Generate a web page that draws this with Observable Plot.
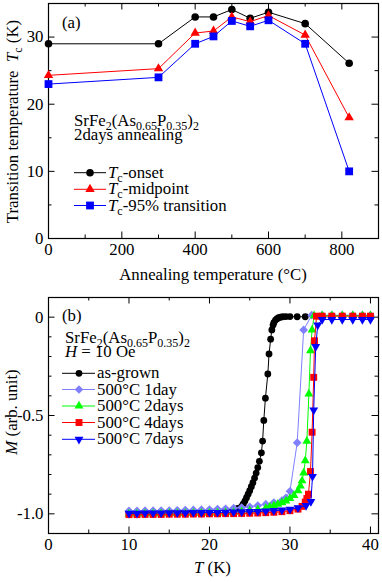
<!DOCTYPE html>
<html><head><meta charset="utf-8">
<script src="https://cdn.jsdelivr.net/npm/d3@7"></script>
<script src="https://cdn.jsdelivr.net/npm/@observablehq/plot@0.6"></script>
<style>
body{margin:0;background:#fff;}
#chart{width:382px;}
#chart svg{display:block;}
#chart svg, #chart svg text, #chart svg tspan{font-family:"Liberation Serif","Times New Roman",serif !important;}
</style></head><body><div id="chart"></div>
<script>
const FONT = "'Liberation Serif', 'Times New Roman', serif";
const FS = 16.8;

// ---------- Panel (a) data ----------
const annealT = [0, 300, 400, 450, 500, 550, 600, 700, 820];
const tcOnset = [29.0, 29.0, 33.0, 33.0, 34.1, 32.8, 33.7, 32.0, 26.1];
const tcMid   = [24.3, 25.3, 30.6, 30.9, 33.0, 32.3, 33.2, 30.3, 18.0];
const tc95    = [23.0, 24.0, 29.0, 30.1, 32.4, 31.6, 32.5, 29.0, 10.0];
const annealTicks = [0, 200, 400, 600, 800];
const annealMinor = [100, 300, 500, 700];
const tcTicks = [0, 10, 20, 30];
const tcMinor = [5, 15, 25];

// ---------- Panel (b) data ----------
const agT = [10,11,12,13,14,15,16,17,18,19,20,21,22,23,23.5,24.0,24.2,24.4,24.6,24.8,25.0,25.2,25.4,25.6,25.8,26.0,26.2,26.45,26.6,26.75,26.95,27.25,27.4,27.6,27.75,27.9,28.0,28.2,28.4,28.6,28.8,29.1,29.5,30.0,30.9,31.9];
const agM = [-0.995,-0.994,-0.993,-0.992,-0.991,-0.990,-0.989,-0.988,-0.987,-0.986,-0.985,-0.983,-0.981,-0.978,-0.972,-0.962,-0.950,-0.935,-0.918,-0.900,-0.882,-0.862,-0.842,-0.818,-0.793,-0.765,-0.733,-0.690,-0.630,-0.525,-0.412,-0.289,-0.187,-0.112,-0.065,-0.040,-0.028,-0.015,-0.008,-0.003,0.000,0.002,0.003,0.003,0.002,0.002];

const d1T = [10,11,12,13,14,15,16,17,18,19,20,21,22,23,24,25,26,27,28,29,29.5,30.0,30.9,31.7,32.7,34.0,35.2,36.5,37.8,39.0,40.0];
const d1M = [-0.985,-0.985,-0.984,-0.984,-0.983,-0.983,-0.982,-0.981,-0.980,-0.979,-0.978,-0.976,-0.974,-0.971,-0.968,-0.964,-0.958,-0.951,-0.943,-0.932,-0.918,-0.885,-0.638,-0.065,0.010,0.010,0.010,0.010,0.010,0.010,0.010];

const d2T = [10,11,12,13,14,15,16,17,18,19,20,21,22,23,24,25,26,27,27.5,28,28.5,29,29.5,30,30.5,31,31.3,31.5,31.7,31.9,32.1,32.35,32.55,32.75,33.0,34.0,35.2,36.5,37.8,39.0,40.0];
const d2M = [-1.000,-1.000,-0.999,-0.999,-0.999,-0.998,-0.998,-0.998,-0.997,-0.997,-0.996,-0.995,-0.994,-0.992,-0.989,-0.985,-0.979,-0.971,-0.965,-0.958,-0.951,-0.943,-0.934,-0.922,-0.906,-0.882,-0.858,-0.832,-0.792,-0.730,-0.630,-0.390,-0.170,-0.065,0.008,0.008,0.008,0.008,0.008,0.008,0.008];

const d4T = [10,11,12,13,14,15,16,17,18,19,20,21,22,23,24,25,26,27,28,29,30,31,31.5,31.9,32.1,32.3,32.55,32.75,32.95,33.05,33.3,34.0,35.2,36.5,37.8,39.0,40.0];
const d4M = [-1.004,-1.004,-1.003,-1.003,-1.003,-1.002,-1.002,-1.002,-1.001,-1.001,-1.000,-1.000,-0.999,-0.999,-0.998,-0.997,-0.996,-0.994,-0.992,-0.989,-0.984,-0.976,-0.962,-0.940,-0.922,-0.900,-0.785,-0.585,-0.306,-0.120,0.005,0.005,0.005,0.005,0.005,0.005,0.005];

const d7T = [10,11,12,13,14,15,16,17,18,19,20,21,22,23,24,25,26,27,28,29,30,31,32,32.6,32.8,32.95,33.2,33.45,34.0,35.2,36.5,37.8,39.0,40.0];
const d7M = [-0.997,-0.997,-0.996,-0.996,-0.996,-0.995,-0.995,-0.995,-0.994,-0.994,-0.993,-0.993,-0.992,-0.991,-0.990,-0.989,-0.988,-0.986,-0.984,-0.981,-0.977,-0.970,-0.958,-0.938,-0.810,-0.473,-0.150,-0.040,-0.012,-0.012,-0.012,-0.012,-0.012,-0.012,-0.012];

const tTicks = [0, 10, 20, 30, 40];
const tMinor = [5, 15, 25, 35];
const mTicks = [-1.0, -0.5, 0];
const mMinor = [-0.9, -0.8, -0.7, -0.6, -0.4, -0.3, -0.2, -0.1];

// ---------- helpers ----------
const triDown = {
  draw(context, size) {
    const y = Math.sqrt(size / (Math.sqrt(3) * 3));
    context.moveTo(0, 2 * y);
    context.lineTo(-Math.sqrt(3) * y, -y);
    context.lineTo(Math.sqrt(3) * y, -y);
    context.closePath();
  }
};
const d3Sym = {circle: d3.symbolCircle, triangle: d3.symbolTriangle, square: d3.symbolSquare, diamond2: d3.symbolDiamond2};

function tickMarks(xMajor, xMinor, yMajor, yMinor, innerW, innerH) {
  const maj = 6.5, min = 3.5;
  return [
    Plot.ruleX(xMajor, {x: d => d, insetTop: innerH - maj, stroke: "black"}),
    Plot.ruleX(xMinor, {x: d => d, insetTop: innerH - min, stroke: "black"}),
    Plot.ruleX(xMajor, {x: d => d, insetBottom: innerH - maj, stroke: "black"}),
    Plot.ruleX(xMinor, {x: d => d, insetBottom: innerH - min, stroke: "black"}),
    Plot.ruleY(yMajor, {y: d => d, insetRight: innerW - maj, stroke: "black"}),
    Plot.ruleY(yMinor, {y: d => d, insetRight: innerW - min, stroke: "black"}),
    Plot.ruleY(yMajor, {y: d => d, insetLeft: innerW - maj, stroke: "black"}),
    Plot.ruleY(yMinor, {y: d => d, insetLeft: innerW - min, stroke: "black"})
  ];
}

function richText(svg, x, y, parts, opts = {}) {
  const t = svg.append("text")
    .attr("font-family", FONT).attr("font-size", FS).attr("fill", "black")
    .attr("text-anchor", opts.anchor || "start");
  if (opts.rotate) {
    t.attr("transform", `translate(${x},${y}) rotate(-90)`).attr("x", 0).attr("y", 0);
  } else {
    t.attr("x", x).attr("y", y);
  }
  let shift = 0;
  for (const p of parts) {
    const s = t.append("tspan").text(p.t);
    const want = p.sub ? 4 : 0;
    if (want !== shift) { s.attr("dy", want - shift); shift = want; }
    if (p.sub) s.attr("font-size", 12);
    if (p.it) s.attr("font-style", "italic");
  }
  return t;
}

function legendRow(svg, x1, x2, xm, y, color, symType, r, label) {
  svg.append("line").attr("x1", x1).attr("x2", x2).attr("y1", y).attr("y2", y)
    .attr("stroke", color).attr("stroke-width", 1);
  svg.append("path").attr("transform", `translate(${xm},${y})`)
    .attr("d", d3.symbol().type(symType).size(Math.PI * r * r)())
    .attr("fill", color);
  richText(svg, x2 + 2, y + 5, label);
}

const formula = [{t: "SrFe"}, {t: "2", sub: true}, {t: "(As"}, {t: "0.65", sub: true}, {t: "P"}, {t: "0.35", sub: true}, {t: ")"}, {t: "2", sub: true}];
const chart = document.getElementById("chart");

// ---------- Panel (a) ----------
{
  const W = 382, H = 290, mL = 48, mR = 4, mT = 3, mB = 52;
  const innerW = W - mL - mR, innerH = H - mT - mB;
  const rows = annealT.map((t, i) => ({t, onset: tcOnset[i], mid: tcMid[i], p95: tc95[i]}));
  const series = [
    {key: "onset", color: "black", symbol: "circle", r: 3.8},
    {key: "mid", color: "#ff0000", symbol: "triangle", r: 3.5},
    {key: "p95", color: "#0000ff", symbol: "square", r: 4.4}
  ];
  const marks = [
    ...tickMarks(annealTicks.filter(v => v > 0), annealMinor, tcTicks.filter(v => v > 0), tcMinor, innerW, innerH),
    Plot.frame({stroke: "black", strokeWidth: 1.2}),
    Plot.axisX(annealTicks, {tickSize: 0, tickPadding: 5, label: null}),
    Plot.axisY(tcTicks, {tickSize: 0, tickPadding: 5, label: null})
  ];
  for (const s of series) {
    marks.push(Plot.line(rows, {x: "t", y: s.key, stroke: s.color, strokeWidth: 1}));
    marks.push(Plot.dot(rows, {x: "t", y: s.key, symbol: s.symbol, r: s.r, fill: s.color, stroke: "none"}));
  }
  const plot = Plot.plot({
    width: W, height: H, marginLeft: mL, marginRight: mR, marginTop: mT, marginBottom: mB,
    style: {fontFamily: FONT, fontSize: FS + "px", background: "white", color: "black"},
    x: {domain: [0, 900]},
    y: {domain: [0, 35]},
    marks
  });
  chart.appendChild(plot);
  const svg = d3.select(plot);
  richText(svg, 62, 27.5, [{t: "(a)"}]);
  richText(svg, 74, 125.5, formula);
  richText(svg, 74, 140, [{t: "2days annealing"}]);
  legendRow(svg, 74, 106, 90, 172.7, "black", d3Sym.circle, 3.8, [{t: "T", it: true}, {t: "c", sub: true}, {t: "-onset"}]);
  legendRow(svg, 74, 106, 90, 189.3, "#ff0000", d3Sym.triangle, 3.5, [{t: "T", it: true}, {t: "c", sub: true}, {t: "-midpoint"}]);
  legendRow(svg, 74, 106, 90, 205.5, "#0000ff", d3Sym.square, 4.4, [{t: "T", it: true}, {t: "c", sub: true}, {t: "-95% transition"}]);
  richText(svg, 213, 280, [{t: "Annealing temperature (°C)"}], {anchor: "middle"});
  richText(svg, 17.5, 121.5, [{t: "Transition temperature  "}, {t: "T", it: true}, {t: "c", sub: true}, {t: " (K)"}], {anchor: "middle", rotate: true});
}

// ---------- Panel (b) ----------
{
  const W = 382, H = 292, mL = 48, mR = 4, mT = 7, mB = 49;
  const innerW = W - mL - mR, innerH = H - mT - mB;
  const seriesB = [
    {name: "as-grown", T: agT, M: agM, color: "black", symbol: "circle", sym: d3Sym.circle, r: 3.4},
    {name: "500°C 1day", T: d1T, M: d1M, color: "#8080ff", symbol: "diamond2", sym: d3Sym.diamond2, r: 3.9},
    {name: "500°C 2days", T: d2T, M: d2M, color: "#00ff00", symbol: "triangle", sym: d3Sym.triangle, r: 3.3},
    {name: "500°C 4days", T: d4T, M: d4M, color: "#ff0000", symbol: "square", sym: d3Sym.square, r: 3.9},
    {name: "500°C 7days", T: d7T, M: d7M, color: "#0000ff", symbol: triDown, sym: triDown, r: 3.3}
  ];
  const marks = [
    ...tickMarks(tTicks.filter(v => v > 0), tMinor, mTicks, mMinor, innerW, innerH),
    Plot.frame({stroke: "black", strokeWidth: 1.2}),
    Plot.axisX(tTicks, {tickSize: 0, tickPadding: 5, label: null}),
    Plot.axisY(mTicks, {tickSize: 0, tickPadding: 5, label: null, tickFormat: d => d === 0 ? "0" : d.toFixed(1)})
  ];
  for (const s of seriesB) {
    const rows = s.T.map((t, i) => ({t, m: s.M[i]}));
    marks.push(Plot.line(rows, {x: "t", y: "m", stroke: s.color, strokeWidth: 1}));
    marks.push(Plot.dot(rows, {x: "t", y: "m", symbol: s.symbol, r: s.r, fill: s.color, stroke: "none"}));
  }
  const plot = Plot.plot({
    width: W, height: H, marginLeft: mL, marginRight: mR, marginTop: mT, marginBottom: mB,
    style: {fontFamily: FONT, fontSize: FS + "px", background: "white", color: "black"},
    x: {domain: [0, 41]},
    y: {domain: [-1.1, 0.1]},
    marks
  });
  chart.appendChild(plot);
  const svg = d3.select(plot);
  richText(svg, 62, 30.5, [{t: "(b)"}]);
  richText(svg, 65, 52.5, formula);
  richText(svg, 65, 67, [{t: "H", it: true}, {t: " = 10 Oe"}]);
  const rowsY = [83.3, 99.5, 116, 132.5, 149.3];
  seriesB.forEach((s, i) => legendRow(svg, 62, 95, 79, rowsY[i], s.color, s.sym, s.r, [{t: s.name}]));
  richText(svg, 212.5, 283, [{t: "T", it: true}, {t: " (K)"}], {anchor: "middle"});
  richText(svg, 16.5, 122, [{t: "M", it: true}, {t: " (arb. unit)"}], {anchor: "middle", rotate: true});
}
</script></body></html>
